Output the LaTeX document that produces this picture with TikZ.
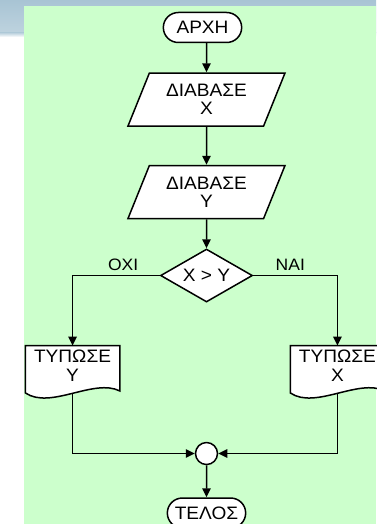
\documentclass[tikz,border=0pt]{standalone}
\usepackage{fontspec}
\setmainfont{Liberation Sans}[FakeStretch=1.06]
\usepackage{xcolor}
\usepackage{tikz}
\usetikzlibrary{shapes,arrows.meta,positioning,backgrounds}

\definecolor{slidegreen}{HTML}{CCFFCC}
\definecolor{slideblue}{HTML}{A8C4D4}

\begin{document}
\begin{tikzpicture}[x=1pt, y=-1pt,
    link/.style={line width=1.5pt},
    arrow/.style={link, -{Triangle[length=9pt, width=8.5pt]}},
    shapebox/.style={draw, link, fill=white, font=\fontsize{18}{18}\selectfont, align=center},
    terminal/.style={shapebox, rounded rectangle, minimum width=85pt, minimum height=30pt},
    io/.style={shapebox, trapezium, trapezium left angle=60, trapezium right angle=120,
        trapezium stretches body, minimum width=157pt, minimum height=53pt},
    decision/.style={shapebox, diamond, aspect=1.7, minimum width=92pt, minimum height=53pt, inner sep=0pt},
    printdoc/.style={minimum width=94pt, minimum height=40pt, inner sep=0pt, align=center,
        font=\fontsize{18}{19}\selectfont},
    joint/.style={circle, draw, link, fill=white, minimum size=22pt, inner sep=0pt},
    answer/.style={font=\fontsize{16.5}{16.5}\selectfont, inner sep=1pt}
]

\useasboundingbox (0,0) rectangle (376,524);
\begin{scope}[on background layer]
\fill[white] (0,0) rectangle (376,524);
\shade[top color=slideblue, bottom color=slideblue!75!white] (0,0) rectangle (376,33);
\shade[top color=slideblue!75!white, bottom color=white] (0,33) rectangle (376,37);
\fill[slidegreen] (24,6) rectangle (376,524);
\end{scope}

\node[terminal] (start) at (202.5,27.5) {ΑΡΧΗ};
\node[io, below=29pt of start, xshift=4pt] (readx) {ΔΙΑΒΑΣΕ\\X};
\node[io, below=38pt of readx] (ready) {ΔΙΑΒΑΣΕ\\Y};
\node[decision, below=29pt of ready] (test) {X > Y};
\node[printdoc, below left=70pt and 40pt of test.west] (printy) {ΤΥΠΩΣΕ\\Y};
\node[printdoc, below right=70pt and 37pt of test.east] (printx) {ΤΥΠΩΣΕ\\X};
\node[joint, below=139pt of test] (merge) {};
\node[terminal, below=32pt of merge] (stop) {ΤΕΛΟΣ};

\begin{scope}[on background layer]
\foreach \doc in {printy,printx}
  \draw[link, fill=white] (\doc.north west) -- (\doc.north east) -- ([yshift=-5pt]\doc.south east)
    .. controls +(-26pt,13pt) and +(25pt,-17pt) .. ([yshift=-7pt]\doc.south west) -- cycle;
\end{scope}

\draw[arrow] (start.south -| readx.north) -- (readx);
\draw[arrow] (readx) -- (ready);
\draw[arrow] (ready) -- (test);
\draw[arrow] (test.west) -| node[answer, above=3pt, pos=0.21] {ΟΧΙ} (printy.north);
\draw[arrow] (test.east) -| node[answer, above=3pt, pos=0.22] {ΝΑΙ} (printx.north);
\draw[arrow] ([yshift=-7pt]printy.south) |- (merge);
\draw[arrow] ([yshift=-7pt]printx.south) |- (merge);
\draw[arrow] (merge) -- (stop);

\end{tikzpicture}
\end{document}
